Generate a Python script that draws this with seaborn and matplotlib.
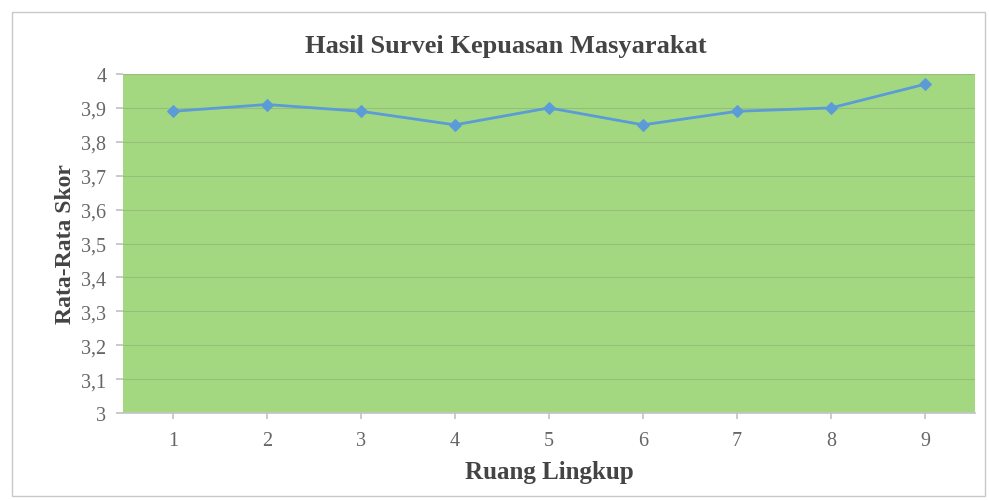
import matplotlib
matplotlib.use("Agg")
import matplotlib.pyplot as plt
import seaborn as sns
import pandas as pd
from matplotlib.patches import Rectangle

categories = [1, 2, 3, 4, 5, 6, 7, 8, 9]
scores = [3.89, 3.91, 3.89, 3.85, 3.90, 3.85, 3.89, 3.90, 3.97]
y_ticks = [3.0, 3.1, 3.2, 3.3, 3.4, 3.5, 3.6, 3.7, 3.8, 3.9, 4.0]
y_tick_labels = ["3", "3,1", "3,2", "3,3", "3,4", "3,5", "3,6", "3,7", "3,8", "3,9", "4"]

df = pd.DataFrame({"Ruang Lingkup": categories, "Rata-Rata Skor": scores})

sns.set_theme(style="white")
plt.rcParams["font.family"] = ["Liberation Serif", "DejaVu Serif"]

fig = plt.figure(figsize=(9.89, 5.02), dpi=100)
fig.patch.set_facecolor("white")
ax = fig.add_axes([123 / 989, 1 - 414 / 502, (975 - 123) / 989, (414 - 75) / 502])
ax.set_facecolor("#a4d880")

sns.lineplot(data=df, x="Ruang Lingkup", y="Rata-Rata Skor", ax=ax,
             color="#5b9bd8", linewidth=2, marker="D", markersize=6,
             markeredgecolor="#5b9bd8", zorder=3)

ax.set_xlim(0.47, 9.53)
ax.set_ylim(3.0, 4.0)
ax.set_xticks(categories)
ax.set_xticklabels([str(c) for c in categories])
ax.set_yticks(y_ticks)
ax.set_yticklabels(y_tick_labels)
ax.yaxis.grid(True, color="#93bf78", linewidth=0.8)
ax.xaxis.grid(False)
for s in ["top", "right", "left"]:
    ax.spines[s].set_visible(False)
ax.spines["bottom"].set_color("#c4c4c4")
ax.tick_params(axis="y", which="both", left=True, length=5, color="#c4c4c4",
               labelsize=14.5, labelcolor="#666666", pad=7)
ax.tick_params(axis="x", which="both", bottom=True, length=4, color="#c4c4c4",
               labelsize=14.5, labelcolor="#666666", pad=9)

ax.set_xlabel("Ruang Lingkup", fontsize=18, fontweight="bold", color="#444444", labelpad=7)
ax.set_ylabel("Rata-Rata Skor", fontsize=17, fontweight="bold", color="#444444", labelpad=4)

fig.text(0.511, 1 - 46 / 502, "Hasil Survei Kepuasan Masyarakat", ha="center", va="center",
         fontsize=19, fontweight="bold", color="#444444")

fig.add_artist(Rectangle((12 / 989, 1 - 497 / 502), (985 - 12) / 989, (497 - 13) / 502,
                         transform=fig.transFigure, fill=False, edgecolor="#c8c8c8", linewidth=1))

fig.savefig("out.png", dpi=100, facecolor="white")
